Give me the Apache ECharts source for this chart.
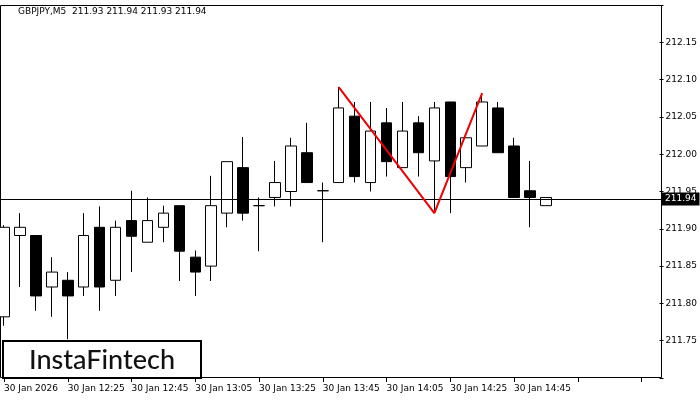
<!DOCTYPE html>
<html><head><meta charset="utf-8">
<script src="https://cdn.jsdelivr.net/npm/echarts@6/dist/echarts.min.js"></script>
<style>html,body{margin:0;padding:0;background:#fff}#c{width:700px;height:400px}</style>
</head><body><div id="c"></div>
<script>
// [open, close, low, high]
const candles = [
[211.782,211.902,211.770,211.905],
[211.891,211.902,211.822,211.921],
[211.891,211.810,211.790,211.891],
[211.822,211.842,211.782,211.862],
[211.831,211.810,211.752,211.842],
[211.822,211.891,211.810,211.921],
[211.902,211.822,211.790,211.930],
[211.831,211.902,211.810,211.911],
[211.911,211.890,211.842,211.951],
[211.882,211.911,211.882,211.942],
[211.902,211.921,211.882,211.931],
[211.931,211.870,211.830,211.931],
[211.862,211.842,211.810,211.871],
[211.850,211.931,211.830,211.971],
[211.921,211.990,211.902,211.990],
[211.982,211.921,211.911,212.023],
[211.931,211.931,211.870,211.942],
[211.942,211.962,211.930,211.991],
[211.950,212.011,211.930,212.022],
[212.002,211.962,211.962,212.042],
[211.951,211.951,211.882,211.962],
[211.962,212.062,211.962,212.090],
[212.051,211.970,211.962,212.070],
[211.962,212.031,211.950,212.070],
[212.042,211.990,211.970,212.062],
[211.982,212.031,211.982,212.070],
[212.042,212.002,211.970,212.051],
[211.991,212.062,211.921,212.070],
[212.070,211.970,211.921,212.070],
[211.982,212.022,211.962,212.022],
[212.011,212.070,212.011,212.082],
[212.062,212.002,212.002,212.070],
[212.011,211.942,211.942,212.022],
[211.951,211.942,211.902,211.991],
[211.931,211.942,211.931,211.942]
];
const patternIdx = [21, 27, 30];
const patternVal = [212.090, 211.921, 212.082];
const tickLabels = ['30 Jan 2026','30 Jan 12:25','30 Jan 12:45','30 Jan 13:05','30 Jan 13:25','30 Jan 13:45','30 Jan 14:05','30 Jan 14:25','30 Jan 14:45'];
const lastPrice = 211.94;
const title = 'GBPJPY,M5  211.93 211.94 211.93 211.94';
const N = 42;
const cats = Array.from({length:N},(_, i)=>String(i));
const pattern = cats.map((_, i)=>{const k=patternIdx.indexOf(i);return k>=0?patternVal[k]:null;});
const chart = echarts.init(document.getElementById('c'));
chart.setOption({
  animation:false,
  grid:{left:4,right:40,top:5,bottom:22},
  xAxis:{type:'category',data:cats,boundaryGap:false,
    axisLine:{show:false},
    axisTick:{show:true,interval:3,length:4,lineStyle:{color:'#000'}},
    axisLabel:{interval:3,align:'left',margin:6,fontSize:9,color:'#000',fontFamily:'DejaVu Sans',
      formatter:(v,i)=>tickLabels[i/4]||''},
    splitLine:{show:false}},
  yAxis:{type:'value',position:'right',min:211.70,max:212.20,interval:0.05,offset:2,
    axisLine:{show:false},axisTick:{show:true,length:4,lineStyle:{color:'#000'}},
    axisLabel:{fontSize:9,color:'#000',fontFamily:'DejaVu Sans',margin:6,
      formatter:v=>(v<211.72||v>212.18)?'':v.toFixed(2)},
    splitLine:{show:false}},
  graphic:[
    {type:'rect',shape:{x:0.5,y:5.5,width:661,height:372},style:{fill:null,stroke:'#000',lineWidth:1},silent:true,z:0},
    {type:'text',left:18,top:7,style:{text:title,fontSize:9,fill:'#000',fontFamily:'DejaVu Sans'}},
    {type:'rect',shape:{x:3,y:341,width:198,height:37},style:{fill:'#fff',stroke:'#000',lineWidth:2},z:100},
    {type:'text',x:102,y:360,z:101,style:{text:'InstaFintech',fontSize:27,fill:'#111',fontFamily:'Lato',fontWeight:500,align:'center',verticalAlign:'middle'}}
  ],
  series:[
    {type:'candlestick',data:candles,barWidth:11,
      itemStyle:{color:'#fff',color0:'#000',borderColor:'#000',borderColor0:'#000',borderWidth:1},
      markLine:{symbol:'none',silent:true,animation:false,
        lineStyle:{color:'#000',type:'solid',width:1},
        label:{show:true,position:'end',formatter:lastPrice.toFixed(2),backgroundColor:'#000',color:'#fff',
          fontSize:9,padding:[2,3],distance:0,fontFamily:'DejaVu Sans'},
        data:[[{x:0,yAxis:lastPrice},{x:662,yAxis:lastPrice}]]}},
    {type:'line',data:pattern,connectNulls:true,symbol:'none',lineStyle:{color:'#e00',width:2},z:5}
  ]
});
</script></body></html>
